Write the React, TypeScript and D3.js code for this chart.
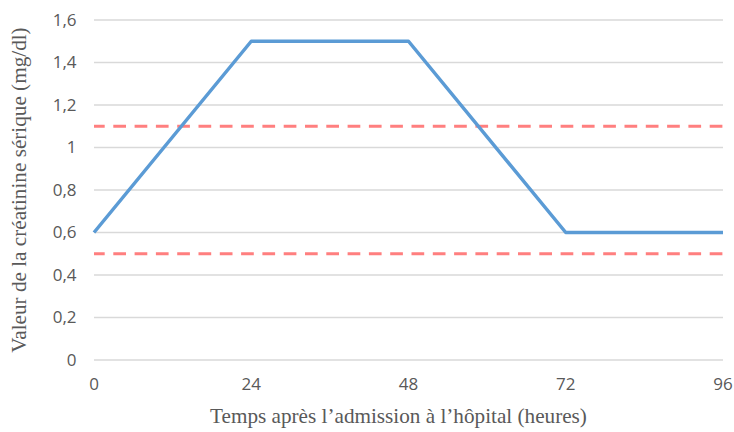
import React from "react";
import * as d3 from "d3";

const hours = [0, 24, 48, 72, 96];
const creatinine = [0.6, 1.5, 1.5, 0.6, 0.6];
const thresholds = [1.1, 0.5];
const yTicks = [0, 0.2, 0.4, 0.6, 0.8, 1, 1.2, 1.4, 1.6];
const xTicks = [0, 24, 48, 72, 96];
const xTitle = "Temps après l’admission à l’hôpital (heures)";
const yTitle = "Valeur de la créatinine sérique (mg/dl)";

const W = 734;
const H = 432;
const left = 94;
const right = 723;
const top = 20;
const bottom = 360;

export default function App() {
  const x = d3.scaleLinear().domain([0, 96]).range([left, right]);
  const y = d3.scaleLinear().domain([0, 1.6]).range([bottom, top]);
  const line = d3
    .line<number>()
    .x((_, i) => x(hours[i]))
    .y((d) => y(d));
  const fmt = (v: number) => String(v).replace(".", ",");
  const tickFont = "'Open Sans', 'Liberation Sans', Arial, sans-serif";
  const titleFont = "'Liberation Serif'";
  return (
    <svg
      width={W}
      height={H}
      style={{ position: "absolute", left: 0, top: 0, background: "#fff" }}
    >
      {yTicks.map((t) => (
        <line
          key={"g" + t}
          x1={left}
          x2={right}
          y1={y(t)}
          y2={y(t)}
          stroke="#d9d9d9"
          strokeWidth={1.3}
        />
      ))}
      {yTicks.map((t) => (
        <text
          key={"yl" + t}
          x={76.5}
          y={y(t) + 5.5}
          textAnchor="end"
          fontFamily={tickFont}
          fontSize={17}
          fill="#595959"
        >
          {fmt(t)}
        </text>
      ))}
      {xTicks.map((t) => (
        <text
          key={"xl" + t}
          x={x(t)}
          y={390}
          textAnchor="middle"
          fontFamily={tickFont}
          fontSize={17}
          fill="#595959"
        >
          {t}
        </text>
      ))}
      {thresholds.map((t) => (
        <line
          key={"th" + t}
          x1={left}
          x2={right}
          y1={y(t)}
          y2={y(t)}
          stroke="#ff7f7f"
          strokeWidth={3}
          strokeDasharray="12.7,8.6"
          strokeDashoffset={2}
        />
      ))}
      <path
        d={line(creatinine) || ""}
        fill="none"
        stroke="#5b9bd5"
        strokeWidth={3.5}
        strokeLinejoin="round"
      />
      <text
        x={398.5}
        y={423}
        textAnchor="middle"
        fontFamily={titleFont}
        fontSize={21.2}
        fill="#595959"
      >
        {xTitle}
      </text>
      <text
        transform={`translate(26,190) rotate(-90)`}
        textAnchor="middle"
        fontFamily={titleFont}
        fontSize={21.2}
        fill="#595959"
      >
        {yTitle}
      </text>
    </svg>
  );
}
